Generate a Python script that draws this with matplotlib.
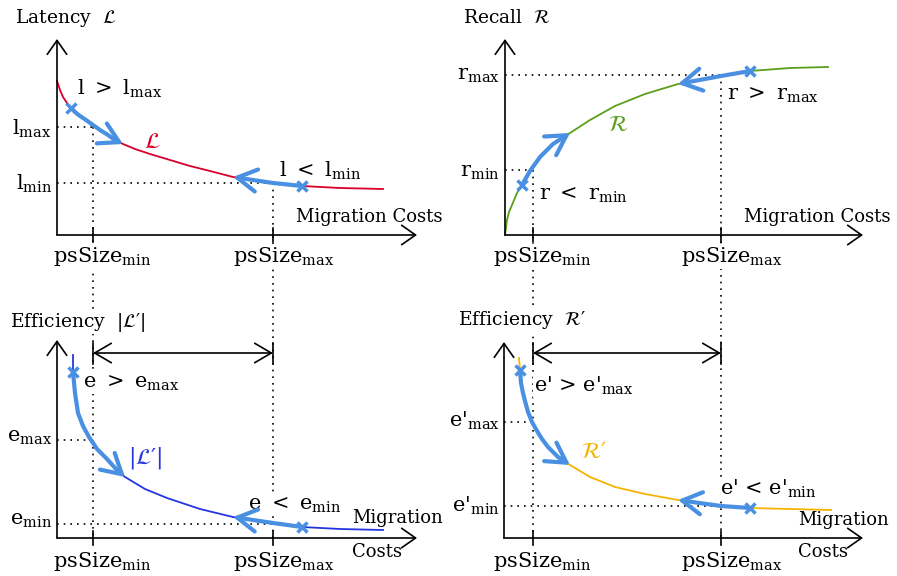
import matplotlib
matplotlib.use('Agg')
import matplotlib.pyplot as plt
from matplotlib.patches import FancyArrowPatch
from matplotlib.path import Path

plt.rcParams['font.family'] = 'DejaVu Serif'
plt.rcParams['mathtext.fontset'] = 'dejavuserif'
plt.rcParams['mathtext.default'] = 'regular'

# sketch is laid out in pixel coordinates (y grows downwards)

# latency curve (top left)
lat_x = [57, 60, 63, 67, 71, 76, 80, 86, 93, 100, 108, 115, 123, 135, 150, 170,
         190, 210, 233, 253, 273, 302, 340, 383]
lat_y = [81, 90, 97, 103, 108, 113, 116, 120, 125, 130, 135, 140, 144, 149, 154, 160,
         166, 171, 177, 180, 183, 186, 188, 189]
# recall curve (top right)
rec_x = [505, 506, 507, 509, 512, 517, 522, 530, 540, 553, 570, 590, 615, 645, 678,
         721, 750, 790, 828]
rec_y = [235, 228, 220, 212, 205, 193, 185, 171, 157, 144, 133, 120, 106, 94, 84,
         76, 71, 68, 67]
# efficiency |L'| (bottom left)
effl_x = [73, 73, 75, 78, 83, 89, 97, 107, 116, 125, 145, 167, 200, 233, 273, 302, 340, 383]
effl_y = [355, 372, 393, 413, 426, 437, 449, 459, 469, 477, 489, 498, 509, 517, 523, 527, 529, 530]
# efficiency R' (bottom right)
effr_x = [519, 520, 521, 523, 525, 528, 532, 537, 542, 548, 558, 570, 590, 615, 645,
          678, 721, 750, 790, 831]
effr_y = [358, 370, 383, 393, 401, 412, 422, 431, 439, 447, 457, 465, 477, 487, 494,
          500, 506, 508, 509, 510]

# (start index, end index) of the blue arrows along each curve
lat_arrows = [(4, 12), (21, 18)]
rec_arrows = [(6, 10), (16, 14)]
effl_arrows = [(1, 9), (15, 13)]
effr_arrows = [(1, 11), (17, 15)]

# psSize min / max positions
ps_left = [93, 273]
ps_right = [533, 721]

# threshold levels
l_max, l_min = 127, 183
r_max, r_min = 75, 170
e_max, e_min = 440, 524
ep_max, ep_min = 422, 506

RED = '#d8002b'
GREEN = '#5a9e1c'
DBLUE = '#2436e0'
YELLOW = '#f4b400'
LBLUE = '#4a90e2'
FS = 13     # plain words
FM = 15     # formulas and tick labels
SP = ' \u2009'

fig = plt.figure(figsize=(8.97, 5.76), dpi=100)
ax = fig.add_axes([0, 0, 1, 1])
ax.set_xlim(0, 897)
ax.set_ylim(576, 0)
ax.axis('off')

dot = dict(color='black', linestyle=(0, (1, 3)), linewidth=1.2, zorder=1)
wbox = dict(facecolor='white', edgecolor='none', pad=0.5)


def arrow(x0, y0, x1, y1, style='->,head_length=0.5,head_width=0.35'):
    a = FancyArrowPatch((x0, y0), (x1, y1), arrowstyle=style,
                        mutation_scale=20, lw=1.2, color='black',
                        shrinkA=0, shrinkB=0, zorder=4)
    ax.add_patch(a)


def axes_frame(x0, y0, ytop, xright, ticks):
    arrow(x0, y0, x0, ytop)
    arrow(x0, y0, xright, y0)
    for t in ticks:
        ax.plot([t, t], [y0 - 7, y0 + 7], color='black', lw=1.2, zorder=4)


def curve(xs, ys, col, arrows):
    ax.plot(xs, ys, color=col, lw=1.3, zorder=3, solid_joinstyle='round')
    for a, b in arrows:
        step = 1 if b > a else -1
        pts = [(xs[i], ys[i]) for i in range(a, b + step, step)]
        p = FancyArrowPatch(path=Path(pts), arrowstyle='->,head_length=0.7,head_width=0.4',
                            mutation_scale=20, lw=3, color=LBLUE, zorder=5,
                            joinstyle='round', capstyle='round')
        ax.add_patch(p)
        ax.plot(xs[a], ys[a], marker='x', color=LBLUE, ms=7, mew=2.5, zorder=6)


def label(x, y, s, ha='left', va='baseline', col='black', cal=False, box=True, fs=FM):
    kw = {}
    if cal:
        kw['math_fontfamily'] = 'stix'
    ax.text(x, y, s, ha=ha, va=va, color=col, fontsize=fs, zorder=2,
            bbox=wbox if box else None, **kw)


# dotted guide lines
ax.plot([57, ps_left[0]], [l_max, l_max], **dot)
ax.plot([57, ps_left[1]], [l_min, l_min], **dot)
ax.plot([ps_left[0], ps_left[0]], [l_max, 538], **dot)
ax.plot([ps_left[1], ps_left[1]], [l_min, 538], **dot)
ax.plot([505, ps_right[1]], [r_max, r_max], **dot)
ax.plot([505, ps_right[0]], [r_min, r_min], **dot)
ax.plot([ps_right[0], ps_right[0]], [r_min, 538], **dot)
ax.plot([ps_right[1], ps_right[1]], [r_max, 538], **dot)
ax.plot([57, ps_left[0]], [e_max, e_max], **dot)
ax.plot([57, ps_left[1]], [e_min, e_min], **dot)
ax.plot([504, ps_right[0]], [ep_max, ep_max], **dot)
ax.plot([504, ps_right[1]], [ep_min, ep_min], **dot)

# axes
axes_frame(57, 235, 39, 417, ps_left)
axes_frame(505, 235, 39, 863, ps_right)
axes_frame(57, 538, 340, 417, ps_left)
axes_frame(504, 538, 342, 863, ps_right)

# allowed range arrows with end bars
rng = '<->,head_length=0.6,head_width=0.35'
for xa, xb in [ps_left, ps_right]:
    arrow(xa, 353, xb, 353, style=rng)
    ax.plot([xa, xa], [343, 364], color='black', lw=1.2, zorder=4)
    ax.plot([xb, xb], [343, 364], color='black', lw=1.2, zorder=4)

# curves
curve(lat_x, lat_y, RED, lat_arrows)
curve(rec_x, rec_y, GREEN, rec_arrows)
curve(effl_x, effl_y, DBLUE, effl_arrows)
curve(effr_x, effr_y, YELLOW, effr_arrows)

# titles
label(15, 18, r'Latency  $\mathcal{L}$', va='center', cal=True, fs=13.5)
label(463, 18, r'Recall  $\mathcal{R}$', va='center', cal=True, fs=13.5)
label(10, 322, r"Efficiency  $|\mathcal{L}′|$", va='center', cal=True, fs=13.5)
label(458, 320, r"Efficiency  $\mathcal{R}′$", va='center', cal=True, fs=13.5)

# x axis titles
label(443, 217, 'Migration Costs', ha='right', va='center', fs=FS)
label(891, 217, 'Migration Costs', ha='right', va='center', fs=FS)
label(352, 523, 'Migration', box=False, fs=FS)
label(352, 557, 'Costs', fs=FS)
label(798, 525, 'Migration', box=False, fs=FS)
label(798, 557, 'Costs', fs=FS)

# tick labels
for y in [262, 567]:
    label(ps_left[0] + 9, y, r'psSize$_{min}$', ha='center')
    label(ps_left[1] + 11, y, r'psSize$_{max}$', ha='center')
    label(ps_right[0] + 9, y, r'psSize$_{min}$', ha='center')
    label(ps_right[1] + 11, y, r'psSize$_{max}$', ha='center')

# threshold labels
label(52, 135, r'l$_{max}$', ha='right')
label(52, 190, r'l$_{min}$', ha='right')
label(500, 80, r'r$_{max}$', ha='right')
label(500, 177, r'r$_{min}$', ha='right')
label(52, 442, r'e$_{max}$', ha='right')
label(52, 525, r'e$_{min}$', ha='right')
label(500, 427, r"e'$_{max}$", ha='right')
label(500, 512, r"e'$_{min}$", ha='right')

# condition labels
label(77, 95, 'l' + SP + '>' + SP + r'l$_{max}$')
label(279, 177, 'l' + SP + '<' + SP + r'l$_{min}$')
label(539, 200, 'r' + SP + '<' + SP + r'r$_{min}$')
label(727, 100, 'r' + SP + '>' + SP + r'r$_{max}$')
label(83, 388, 'e' + SP + '>' + SP + r'e$_{max}$')
label(248, 510, 'e' + SP + '<' + SP + r'e$_{min}$')
label(534, 392, r"e' > e'$_{max}$")
label(720, 495, r"e' < e'$_{min}$")

# curve names
label(152, 142, r'$\mathcal{L}$', ha='center', va='center', col=RED, cal=True, box=False, fs=16)
label(618, 125, r'$\mathcal{R}$', ha='center', va='center', col=GREEN, cal=True, box=False, fs=16)
label(128, 458, r"$|\mathcal{L}′|$", va='center', col=DBLUE, cal=True, box=False, fs=16)
label(581, 452, r"$\mathcal{R}′$", va='center', col=YELLOW, cal=True, box=False, fs=16)

fig.savefig('out.png', dpi=100)
